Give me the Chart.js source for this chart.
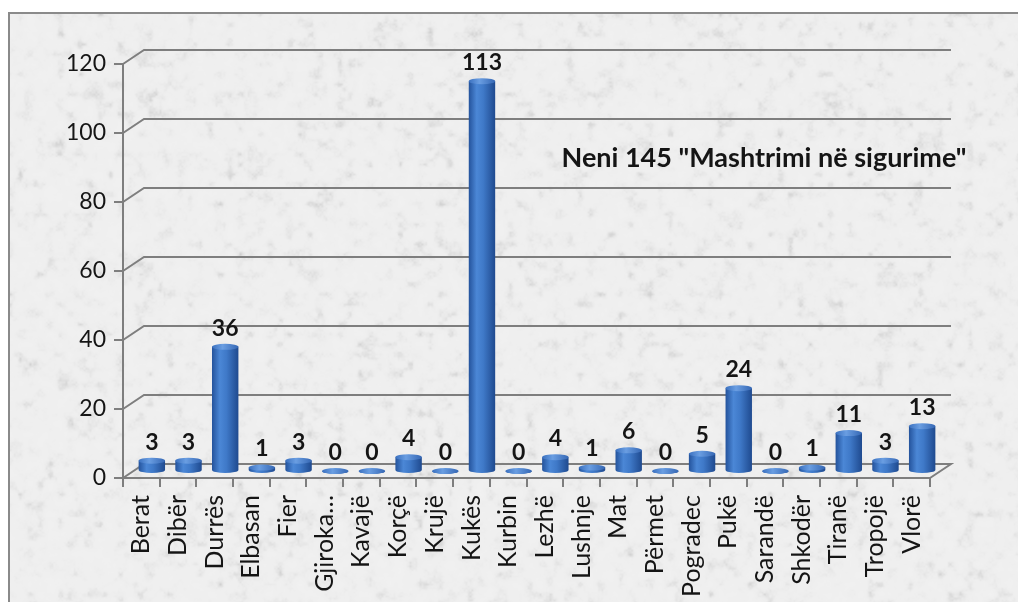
<!DOCTYPE html>
<html>
<head>
<meta charset="utf-8">
<script src="https://cdn.jsdelivr.net/npm/chart.js@4.4.1/dist/chart.umd.min.js"></script>
<style>
  html, body { margin: 0; padding: 0; background: #fff; overflow: hidden; }
  #frame {
    position: absolute; left: 8px; top: 12px; width: 1100px; height: 700px;
    border: 2px solid #8a8a8a; background: #e8e8e8;
  }
  #paper { position: absolute; left: 0; top: 0; }
  #wrap { position: absolute; left: 0; top: 0; width: 1018px; height: 602px; }
</style>
</head>
<body>
<div id="frame"><canvas id="paper" width="1100" height="700"></canvas></div>
<div id="wrap"><canvas id="chart" width="1018" height="602"></canvas></div>
<script>
const cities = [
  'Berat', 'Dibër', 'Durrës', 'Elbasan', 'Fier', 'Gjiroka…', 'Kavajë', 'Korçë',
  'Krujë', 'Kukës', 'Kurbin', 'Lezhë', 'Lushnje', 'Mat', 'Përmet', 'Pogradec',
  'Pukë', 'Sarandë', 'Shkodër', 'Tiranë', 'Tropojë', 'Vlorë'
];
const cases = [3, 3, 36, 1, 3, 0, 0, 4, 0, 113, 0, 4, 1, 6, 0, 5, 24, 0, 1, 11, 3, 13];
const yTicks = [0, 20, 40, 60, 80, 100, 120];
const chartTitle = 'Neni 145 "Mashtrimi në sigurime"';

// depth of the fake 3d box
const DX = 21, DY = -14;
const RY = 3;
const LINE = '#7e7e7e';
const TXT = '#151515';
const FONT = 'Lato, "Open Sans", sans-serif';

// granite-like paper behind the chart (hashed value noise, no randomness)
(function paper() {
  const cv = document.getElementById('paper');
  const c = cv.getContext('2d');
  const W = cv.width, H = cv.height;
  const hash = (i, j, s) => {
    let n = Math.imul(i, 374761393) + Math.imul(j, 668265263) + Math.imul(s, 2246822519);
    n = Math.imul(n ^ (n >>> 13), 1274126177);
    return ((n ^ (n >>> 16)) >>> 0) / 4294967295;
  };
  const noise = (x, y, cell, s) => {
    const gx = x / cell, gy = y / cell;
    const i = Math.floor(gx), j = Math.floor(gy);
    const fx = gx - i, fy = gy - j;
    const sx = fx * fx * (3 - 2 * fx), sy = fy * fy * (3 - 2 * fy);
    const a = hash(i, j, s), b = hash(i + 1, j, s), d = hash(i, j + 1, s), e = hash(i + 1, j + 1, s);
    return (a + (b - a) * sx) * (1 - sy) + (d + (e - d) * sx) * sy;
  };
  const img = c.createImageData(W, H);
  for (let y = 0; y < H; y++) {
    for (let x = 0; x < W; x++) {
      const n = 0.55 * noise(x, y, 10, 1) + 0.3 * noise(x, y, 5, 2) + 0.15 * noise(x, y, 2, 3);
      const dark = Math.max(0, n - 0.5) * 2;
      const v = Math.round(241 - dark * dark * 30 - n * 5);
      const k = (y * W + x) * 4;
      img.data[k] = v; img.data[k + 1] = v; img.data[k + 2] = v; img.data[k + 3] = 255;
    }
  }
  c.putImageData(img, 0, 0);
})();

function barGradient(ctx, cx, w) {
  const g = ctx.createLinearGradient(cx - w / 2, 0, cx + w / 2, 0);
  g.addColorStop(0, '#24539c');
  g.addColorStop(0.3, '#4b87d6');
  g.addColorStop(0.55, '#3f79c8');
  g.addColorStop(1, '#1f4a8f');
  return g;
}

const box3d = {
  id: 'box3d',
  beforeDatasetsDraw(chart) {
    const { ctx, chartArea: a, scales: { y } } = chart;
    ctx.save();
    ctx.strokeStyle = LINE;
    ctx.lineWidth = 2;
    yTicks.forEach(v => {
      const py = y.getPixelForValue(v);
      ctx.beginPath();
      ctx.moveTo(a.left, py);
      ctx.lineTo(a.left + DX, py + DY);
      ctx.lineTo(a.right + DX, py + DY);
      if (v === 0) ctx.lineTo(a.right, py);
      ctx.stroke();
    });
    ctx.restore();
    // bars sit halfway into the box
    ctx.save();
    ctx.translate(DX / 2, DY / 2);
  },
  afterDatasetsDraw(chart) {
    const { ctx } = chart;
    const meta = chart.getDatasetMeta(0);
    meta.data.forEach((el, i) => {
      const w = el.width;
      // rounded bottom
      ctx.beginPath();
      ctx.ellipse(el.x, el.base, w / 2, RY, 0, 0, Math.PI);
      ctx.fillStyle = barGradient(ctx, el.x, w);
      ctx.fill();
      // top cap
      ctx.beginPath();
      ctx.ellipse(el.x, el.y, w / 2, RY, 0, 0, Math.PI * 2);
      const g = ctx.createLinearGradient(el.x - w / 2, 0, el.x + w / 2, 0);
      g.addColorStop(0, '#3a70bf');
      g.addColorStop(0.4, '#6a9ee2');
      g.addColorStop(1, '#3567b4');
      ctx.fillStyle = g;
      ctx.fill();
      // value label
      ctx.fillStyle = TXT;
      ctx.font = 'bold 23px ' + FONT;
      ctx.textAlign = 'center';
      ctx.textBaseline = 'bottom';
      ctx.fillText(String(cases[i]), el.x, el.y - RY - 4);
    });
    ctx.restore();
  },
  afterDraw(chart) {
    const { ctx } = chart;
    ctx.save();
    ctx.fillStyle = TXT;
    ctx.font = 'bold 27px ' + FONT;
    ctx.textAlign = 'center';
    ctx.textBaseline = 'middle';
    ctx.fillText(chartTitle, 764, 158);
    ctx.restore();
  }
};

new Chart(document.getElementById('chart'), {
  type: 'bar',
  data: {
    labels: cities,
    datasets: [{
      data: cases,
      clip: false,
      categoryPercentage: 1,
      barPercentage: 0.72,
      backgroundColor(c) {
        const x = c.chart.scales.x;
        if (!x || !x.width) return '#3a72c0';
        const w = x.width / cities.length * 0.72;
        return barGradient(c.chart.ctx, x.getPixelForValue(c.dataIndex), w);
      }
    }]
  },
  options: {
    responsive: false,
    animation: false,
    devicePixelRatio: 1,
    layout: { padding: { top: 64, right: 88, left: 0, bottom: 0 } },
    plugins: {
      legend: { display: false },
      tooltip: { enabled: false },
      title: { display: false }
    },
    scales: {
      x: {
        afterFit(s) { s.height = 124; },
        border: { color: LINE, width: 2 },
        grid: { drawOnChartArea: false, color: LINE, lineWidth: 2, tickLength: 9, offset: true },
        ticks: {
          autoSkip: false, maxRotation: 90, minRotation: 90, padding: 8,
          color: TXT, font: { family: FONT, size: 25 }
        }
      },
      y: {
        min: 0, max: 120,
        afterFit(s) { s.width = 123; },
        border: { color: LINE, width: 2 },
        grid: { drawOnChartArea: false, color: LINE, lineWidth: 2, tickLength: 9 },
        ticks: {
          stepSize: 20, padding: 8,
          color: TXT, font: { family: FONT, size: 23 }
        }
      }
    }
  },
  plugins: [box3d]
});
</script>
</body>
</html>
